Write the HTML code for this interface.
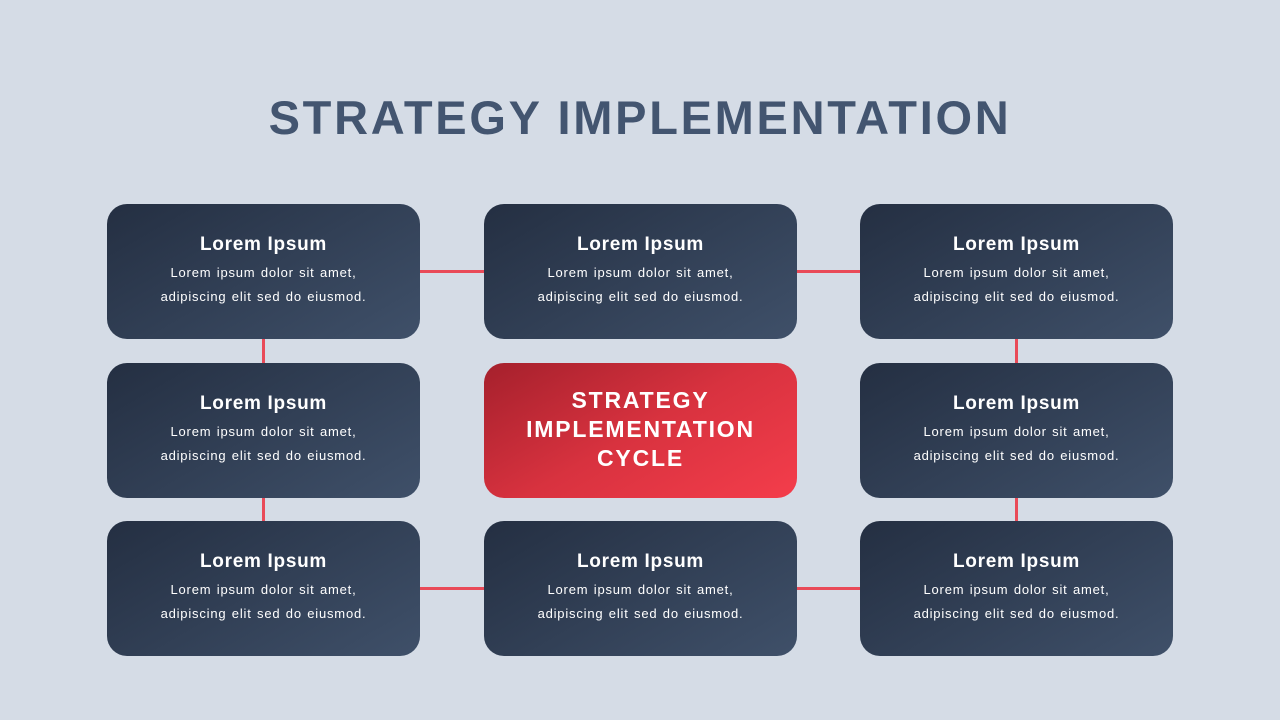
<!DOCTYPE html>
<html><head><meta charset="utf-8"><style>
body{margin:0;width:1280px;height:720px;background:#d5dce6;position:relative;overflow:hidden;font-family:"Liberation Sans",sans-serif}
h1{position:absolute;top:88px;left:0;width:1280px;text-align:center;margin:0;font-size:47px;font-weight:bold;color:#435570;letter-spacing:2.7px;line-height:60px}
.b{position:absolute;width:313px;height:135px;border-radius:20px;background:linear-gradient(150deg,#242f42 0%,#3f5069 100%);color:#fff;text-align:center}
.b h2{margin:0;position:absolute;top:29px;width:100%;font-size:19px;font-weight:bold;line-height:24px;letter-spacing:0.7px}
.b p{margin:0;position:absolute;top:57px;width:100%;font-size:13px;line-height:24px;letter-spacing:0.8px;word-spacing:1px}
.c{background:linear-gradient(150deg,#a5202c 0%,#d8323f 50%,#f43d4b 100%)}
.c div{position:absolute;top:23px;width:100%;font-size:23px;font-weight:bold;line-height:29px;letter-spacing:1.8px}
.h{position:absolute;height:3px;background:#e94a58;width:64px}
.v{position:absolute;width:3px;background:#e94a58;height:24px}
</style></head><body>
<h1>STRATEGY IMPLEMENTATION</h1>
<div class="h" style="left:420px;top:270px"></div>
<div class="h" style="left:796px;top:270px"></div>
<div class="h" style="left:420px;top:587px"></div>
<div class="h" style="left:796px;top:587px"></div>
<div class="v" style="left:262px;top:339px"></div>
<div class="v" style="left:262px;top:498px"></div>
<div class="v" style="left:1015px;top:339px"></div>
<div class="v" style="left:1015px;top:498px"></div>
<div class="b" style="left:107px;top:204px"><h2>Lorem Ipsum</h2><p>Lorem ipsum dolor sit amet,<br>adipiscing elit sed do eiusmod.</p></div>
<div class="b" style="left:484px;top:204px"><h2>Lorem Ipsum</h2><p>Lorem ipsum dolor sit amet,<br>adipiscing elit sed do eiusmod.</p></div>
<div class="b" style="left:860px;top:204px"><h2>Lorem Ipsum</h2><p>Lorem ipsum dolor sit amet,<br>adipiscing elit sed do eiusmod.</p></div>
<div class="b" style="left:107px;top:363px"><h2>Lorem Ipsum</h2><p>Lorem ipsum dolor sit amet,<br>adipiscing elit sed do eiusmod.</p></div>
<div class="b c" style="left:484px;top:363px"><div>STRATEGY<br>IMPLEMENTATION<br>CYCLE</div></div>
<div class="b" style="left:860px;top:363px"><h2>Lorem Ipsum</h2><p>Lorem ipsum dolor sit amet,<br>adipiscing elit sed do eiusmod.</p></div>
<div class="b" style="left:107px;top:521px"><h2>Lorem Ipsum</h2><p>Lorem ipsum dolor sit amet,<br>adipiscing elit sed do eiusmod.</p></div>
<div class="b" style="left:484px;top:521px"><h2>Lorem Ipsum</h2><p>Lorem ipsum dolor sit amet,<br>adipiscing elit sed do eiusmod.</p></div>
<div class="b" style="left:860px;top:521px"><h2>Lorem Ipsum</h2><p>Lorem ipsum dolor sit amet,<br>adipiscing elit sed do eiusmod.</p></div>
</body></html>
